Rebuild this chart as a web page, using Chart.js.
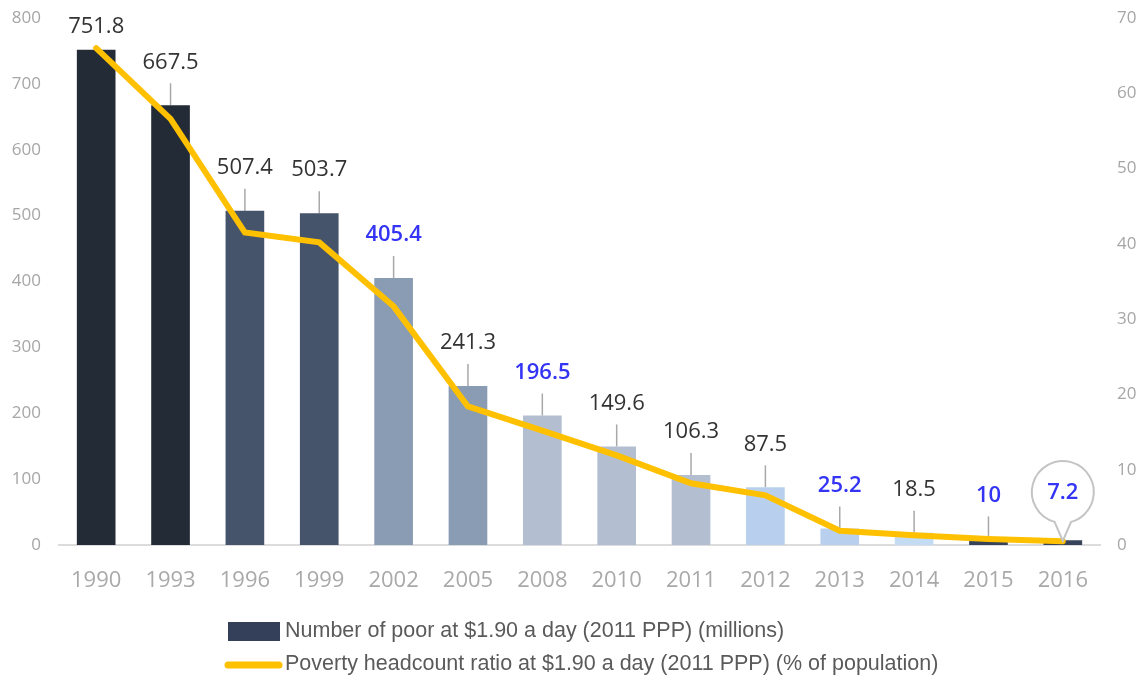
<!DOCTYPE html>
<html>
<head>
<meta charset="utf-8">
<script src="https://cdn.jsdelivr.net/npm/chart.js@4.4.0/dist/chart.umd.min.js"></script>
<style>
  html, body { margin: 0; padding: 0; background: #ffffff; }
  #wrap { width: 1147px; height: 680px; position: relative; }
</style>
</head>
<body>
<div id="wrap"><canvas id="c"></canvas></div>
<script>
// ---- Data ----
const years = ['1990','1993','1996','1999','2002','2005','2008','2010','2011','2012','2013','2014','2015','2016'];
const poorMillions = [751.8, 667.5, 507.4, 503.7, 405.4, 241.3, 196.5, 149.6, 106.3, 87.5, 25.2, 18.5, 10, 7.2];
const headcountRatio = [66.0, 56.6, 41.5, 40.2, 31.7, 18.4, 15.2, 11.9, 8.2, 6.6, 1.9, 1.3, 0.8, 0.5];
const leftTicks = [0, 100, 200, 300, 400, 500, 600, 700, 800];
const rightTicks = [0, 10, 20, 30, 40, 50, 60, 70];
const seriesNames = [
  'Number of poor at $1.90 a day (2011 PPP) (millions)',
  'Poverty headcount ratio at $1.90 a day (2011 PPP) (% of population)'
];
const highlightedYears = ['2002', '2008', '2013', '2015', '2016'];
const calloutYear = '2016';

// ---- Styles ----
const barColors = ['#232b36','#232b36','#45546b','#45546b','#8a9cb4','#8a9cb4','#b3bed1','#b3bed1','#b3bed1','#b9cfee','#b9cfee','#c4dcf3','#37435a','#37435a'];
const lineColor = '#ffc000';
const legendBoxColor = '#34405a';
const tickColor = '#a6a6a6';
const labelDark = '#333333';
const labelBlue = '#3434f5';

const labelPlugin = {
  id: 'barLabels',
  beforeDatasetsDraw(chart) {
    const ctx = chart.ctx;
    const meta = chart.getDatasetMeta(0);
    ctx.save();
    ctx.strokeStyle = '#a8a8a8';
    ctx.lineWidth = 1.5;
    meta.data.forEach((bar, i) => {
      if (years[i] === calloutYear) return;
      const top = bar.y;
      const labelY = top - 41;
      if (labelY < 27) return;
      ctx.beginPath();
      ctx.moveTo(bar.x, top - 22);
      ctx.lineTo(bar.x, top);
      ctx.stroke();
    });
    ctx.restore();
  },
  afterDatasetsDraw(chart) {
    const ctx = chart.ctx;
    const meta = chart.getDatasetMeta(0);
    ctx.save();
    ctx.textAlign = 'center';
    ctx.textBaseline = 'middle';
    meta.data.forEach((bar, i) => {
      const hl = highlightedYears.includes(years[i]);
      const txt = String(poorMillions[i]);
      let y = Math.max(bar.y - 43, 27);
      if (years[i] === calloutYear) {
        const cx = bar.x, cy = 492, r = 31;
        const ang = 0.27;
        ctx.beginPath();
        ctx.arc(cx, cy, r, Math.PI / 2 + ang, Math.PI / 2 - ang + 2 * Math.PI, false);
        ctx.lineTo(cx, 541);
        ctx.closePath();
        ctx.fillStyle = '#ffffff';
        ctx.fill();
        ctx.strokeStyle = '#c4c4c4';
        ctx.lineWidth = 2;
        ctx.stroke();
        y = cy + 1;
      }
      ctx.fillStyle = hl ? labelBlue : labelDark;
      ctx.font = (hl ? '600 ' : '400 ') + '22px "Open Sans"';
      ctx.fillText(txt, bar.x, y);
    });
    ctx.restore();
  },
  afterDraw(chart) {
    const ctx = chart.ctx;
    ctx.save();
    ctx.fillStyle = legendBoxColor;
    ctx.fillRect(228, 622, 52, 19);
    ctx.strokeStyle = lineColor;
    ctx.lineWidth = 7;
    ctx.lineCap = 'round';
    ctx.beginPath();
    ctx.moveTo(228, 665);
    ctx.lineTo(279, 665);
    ctx.stroke();
    ctx.fillStyle = '#5a5a5a';
    ctx.font = '21.5px "Liberation Sans"';
    ctx.textAlign = 'left';
    ctx.textBaseline = 'middle';
    ctx.fillText(seriesNames[0], 285, 631);
    ctx.fillText(seriesNames[1], 285, 664);
    ctx.restore();
  }
};

new Chart(document.getElementById('c'), {
  data: {
    labels: years,
    datasets: [
      {
        type: 'bar',
        label: seriesNames[0],
        data: poorMillions,
        backgroundColor: barColors,
        yAxisID: 'y',
        barPercentage: 0.52,
        categoryPercentage: 1.0,
        order: 2
      },
      {
        type: 'line',
        label: seriesNames[1],
        data: headcountRatio,
        borderColor: lineColor,
        backgroundColor: lineColor,
        borderWidth: 6,
        pointRadius: 0,
        tension: 0,
        borderCapStyle: 'round',
        yAxisID: 'y1',
        order: 1
      }
    ]
  },
  options: {
    responsive: true,
    maintainAspectRatio: false,
    animation: false,
    layout: { padding: { top: 18, bottom: 90, left: 0, right: 0 } },
    plugins: { legend: { display: false }, tooltip: { enabled: false } },
    scales: {
      x: {
        grid: { display: false, drawTicks: false },
        border: { display: true, color: '#dcdcdc', width: 2 },
        ticks: { color: '#a9a9a9', font: { family: 'Open Sans', size: 22 }, padding: 23, maxRotation: 0, autoSkip: false },
        afterFit(s) { s.height = 45; }
      },
      y: {
        position: 'left',
        min: 0, max: 800,
        afterBuildTicks(s) { s.ticks = leftTicks.map(v => ({ value: v })); },
        grid: { display: false, drawTicks: false },
        border: { display: false },
        ticks: { color: tickColor, font: { family: 'Open Sans', size: 17 }, padding: 18 },
        afterFit(s) { s.width = 59; s.paddingTop = 0; s.paddingBottom = 0; }
      },
      y1: {
        position: 'right',
        min: 0, max: 70,
        afterBuildTicks(s) { s.ticks = rightTicks.map(v => ({ value: v })); },
        grid: { display: false, drawTicks: false },
        border: { display: false },
        ticks: { color: tickColor, font: { family: 'Open Sans', size: 17 }, padding: 17 },
        afterFit(s) { s.width = 47; s.paddingTop = 0; s.paddingBottom = 0; }
      }
    }
  },
  plugins: [labelPlugin]
});
</script>
</body>
</html>
